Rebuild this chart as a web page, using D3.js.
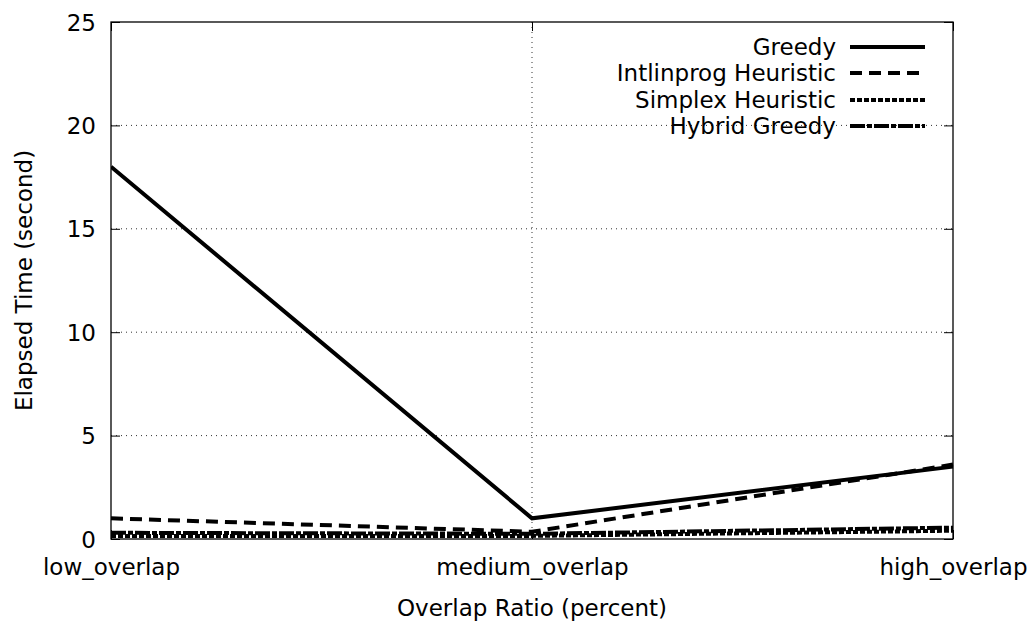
<!DOCTYPE html>
<html><head><meta charset="utf-8">
<script src="https://cdn.jsdelivr.net/npm/d3@7"></script>
<style>body{margin:0;background:#fff}svg{display:block}text{font-family:"DejaVu Sans",sans-serif;fill:#000}</style>
</head><body>
<svg id="c" width="1030" height="621"></svg>
<script>
const categories = ["low_overlap", "medium_overlap", "high_overlap"];
const greedy = [18.0, 1.0, 3.5];
const intlinprog = [1.0, 0.35, 3.6];
const simplex = [0.15, 0.15, 0.4];
const hybrid = [0.3, 0.25, 0.55];
const yTicks = [0, 5, 10, 15, 20, 25];
const seriesNames = ["Greedy", "Intlinprog Heuristic", "Simplex Heuristic", "Hybrid Greedy"];
const seriesDash = [null, "12,7", "5,2", "15,2,5,2"];

const svg = d3.select("#c");
const L = 111, R = 953, T = 22, B = 539;
const x = d3.scalePoint().domain(categories).range([L, R]);
const y = d3.scaleLinear().domain([0, 25]).range([B, T]);
const fs = 23;

// grid
const g = svg.append("g");
yTicks.filter(v => v > 0 && v < 25).forEach(v => {
  g.append("line").attr("x1", L).attr("x2", R).attr("y1", y(v)).attr("y2", y(v))
   .attr("stroke", "#333").attr("stroke-width", 1).attr("stroke-dasharray", "1,4");
});
categories.slice(1, -1).forEach(c => {
  g.append("line").attr("x1", x(c)).attr("x2", x(c)).attr("y1", T).attr("y2", B)
   .attr("stroke", "#333").attr("stroke-width", 1).attr("stroke-dasharray", "1,4");
});

// axes via d3 (inward ticks)
const yAxis = d3.axisLeft(y).tickValues(yTicks).tickSize(-9).tickPadding(15).tickFormat(d3.format("d"));
const ya = svg.append("g").attr("transform", `translate(${L},0)`).call(yAxis);
const yr = svg.append("g").attr("transform", `translate(${R},0)`).call(d3.axisRight(y).tickValues(yTicks).tickSize(-9).tickFormat(""));
const xAxis = d3.axisBottom(x).tickSize(-9).tickPadding(20);
const xa = svg.append("g").attr("transform", `translate(0,${B})`).call(xAxis);
const xt = svg.append("g").attr("transform", `translate(0,${T})`).call(d3.axisTop(x).tickSize(-9).tickFormat(""));
[ya, yr, xa, xt].forEach(a => {
  a.select(".domain").remove();
  a.selectAll(".tick line").attr("stroke", "#000").attr("stroke-width", 1);
  a.selectAll("text").style("font-size", fs + "px").attr("fill", "#000");
});
ya.selectAll("text").attr("dy", "0.35em");

// border
svg.append("rect").attr("x", L).attr("y", T).attr("width", R - L).attr("height", B - T)
  .attr("fill", "none").attr("stroke", "#000").attr("stroke-width", 1.3);

// clip
svg.append("clipPath").attr("id", "clip").append("rect")
  .attr("x", L).attr("y", T - 2).attr("width", R - L + 4).attr("height", B - T + 2);

const data = [greedy, intlinprog, simplex, hybrid];
const line = d3.line().x((d, i) => x(categories[i])).y(d => y(d));
const lg = svg.append("g").attr("clip-path", "url(#clip)");
data.forEach((s, k) => {
  lg.append("path").datum(s).attr("d", line).attr("fill", "none").attr("stroke", "#000")
    .attr("stroke-width", 4).attr("stroke-dasharray", seriesDash[k]);
});

// legend
const legY = [47, 73, 100, 126];
seriesNames.forEach((n, k) => {
  svg.append("text").attr("x", 836).attr("y", legY[k]).attr("dy", "0.35em")
    .attr("text-anchor", "end").style("font-size", fs + "px").text(n);
  svg.append("line").attr("x1", 850).attr("x2", 925).attr("y1", legY[k]).attr("y2", legY[k])
    .attr("stroke", "#000").attr("stroke-width", 4).attr("stroke-dasharray", seriesDash[k]);
});

// axis titles
svg.append("text").attr("x", (L + R) / 2).attr("y", 616).attr("text-anchor", "middle")
  .style("font-size", fs + "px").text("Overlap Ratio (percent)");
svg.append("text").attr("transform", `translate(32,${(T + B) / 2}) rotate(-90)`)
  .attr("text-anchor", "middle").style("font-size", fs + "px").text("Elapsed Time (second)");
</script>
</body></html>
